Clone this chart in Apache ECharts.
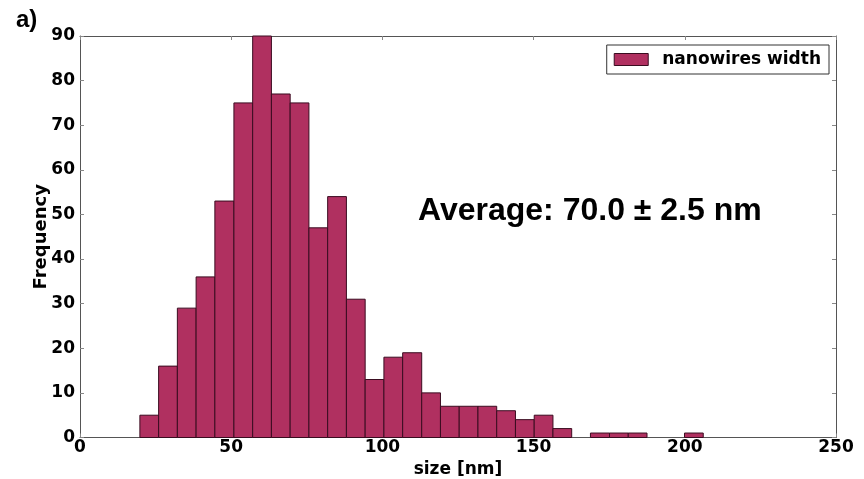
<!DOCTYPE html>
<html>
<head>
<meta charset="utf-8">
<script src="https://cdn.jsdelivr.net/npm/echarts@6/dist/echarts.min.js"></script>
<style>
  html, body { margin: 0; padding: 0; background: #fff; }
  #chart { width: 864px; height: 479px; }
</style>
</head>
<body>
<div id="chart"></div>
<script>
// bin edges (nm)
const binEdges = [19.8, 26.0, 32.2, 38.4, 44.6, 50.9, 57.1, 63.3, 69.5, 75.7, 81.9,
  88.1, 94.3, 100.5, 106.7, 113.0, 119.2, 125.4, 131.6, 137.8, 144.0,
  150.2, 156.4, 162.6, 168.8, 175.1, 181.3, 187.5, 193.7, 199.9, 206.1];
// counts per bin
const counts = [5, 16, 29, 36, 53, 75, 90, 77, 75, 47, 54, 31, 13, 18, 19, 10,
  7, 7, 7, 6, 4, 5, 2, 0, 1, 1, 1, 0, 0, 1];
const seriesName = "nanowires width";
const xTicks = [0, 50, 100, 150, 200, 250];
const yTicks = [0, 10, 20, 30, 40, 50, 60, 70, 80, 90];

const barColor = "#B03060";
const edgeColor = "#3a0c20";
const frameColor = "#555";
const tickFont = "DejaVu Sans";

let histData = [];
counts.forEach((c, i) => {
  if (c > 0) histData.push([binEdges[i], binEdges[i + 1], c]);
});

const myChart = echarts.init(document.getElementById("chart"), null, { renderer: "canvas" });

const frameAxis = {
  axisLine: { show: true, onZero: false, lineStyle: { color: frameColor, width: 1 } },
  axisTick: { show: true, inside: true, length: 4, lineStyle: { color: "#888" } },
  splitLine: { show: false },
};

myChart.setOption({
  animation: false,
  backgroundColor: "#fff",
  grid: { left: 80, right: 28, top: 36, bottom: 41.5, outerBoundsMode: "none" },
  legend: {
    right: 35,
    top: 45,
    orient: "horizontal",
    padding: [6, 8, 6, 7],
    borderColor: "#333",
    borderWidth: 1,
    itemWidth: 34,
    itemHeight: 12,
    textStyle: { fontFamily: tickFont, fontWeight: "bold", fontSize: 17, color: "#000", padding: [0, 0, 0, 9] },
    data: [{ name: seriesName, icon: "rect", itemStyle: { color: barColor, borderColor: edgeColor, borderWidth: 1 } }],
  },
  xAxis: [
    Object.assign({}, frameAxis, {
      type: "value",
      min: xTicks[0],
      max: xTicks[xTicks.length - 1],
      interval: 50,
      name: "size [nm]",
      nameLocation: "middle",
      nameMoveOverlap: false,
      nameGap: 24,
      nameTextStyle: { fontFamily: tickFont, fontWeight: "bold", fontSize: 17, color: "#000" },
      axisLabel: { fontFamily: tickFont, fontWeight: "bold", fontSize: 17, color: "#000", margin: 2 },
    }),
    Object.assign({}, frameAxis, {
      type: "value",
      position: "top",
      min: xTicks[0],
      max: xTicks[xTicks.length - 1],
      interval: 50,
      axisLabel: { show: false },
    }),
  ],
  yAxis: [
    Object.assign({}, frameAxis, {
      type: "value",
      min: yTicks[0],
      max: yTicks[yTicks.length - 1],
      interval: 10,
      name: "Frequency",
      nameLocation: "middle",
      nameMoveOverlap: false,
      nameGap: 30,
      nameTextStyle: { fontFamily: tickFont, fontWeight: "bold", fontSize: 18, color: "#000" },
      axisLabel: { fontFamily: tickFont, fontWeight: "bold", fontSize: 17, color: "#000", margin: 5 },
    }),
    Object.assign({}, frameAxis, {
      type: "value",
      position: "right",
      min: yTicks[0],
      max: yTicks[yTicks.length - 1],
      interval: 10,
      axisLabel: { show: false },
    }),
  ],
  graphic: [
    {
      type: "text",
      left: 16,
      top: 8,
      style: { text: "a)", font: "bold 24px 'Liberation Sans'", fill: "#000" },
    },
    {
      type: "text",
      left: 418,
      top: 195,
      style: { text: "Average: 70.0 ± 2.5 nm", font: "bold 32px 'Liberation Sans'", fill: "#000" },
    },
  ],
  series: [
    {
      name: seriesName,
      type: "custom",
      xAxisIndex: 0,
      yAxisIndex: 0,
      itemStyle: { color: barColor, borderColor: edgeColor, borderWidth: 1 },
      encode: { x: [0, 1], y: 2 },
      data: histData,
      renderItem: function (params, api) {
        let p0 = api.coord([api.value(0), 0]);
        let p1 = api.coord([api.value(1), api.value(2)]);
        return {
          type: "rect",
          shape: { x: p0[0], y: p1[1], width: p1[0] - p0[0], height: p0[1] - p1[1] },
          style: { fill: barColor, stroke: edgeColor, lineWidth: 1 },
        };
      },
    },
  ],
});
</script>
</body>
</html>
